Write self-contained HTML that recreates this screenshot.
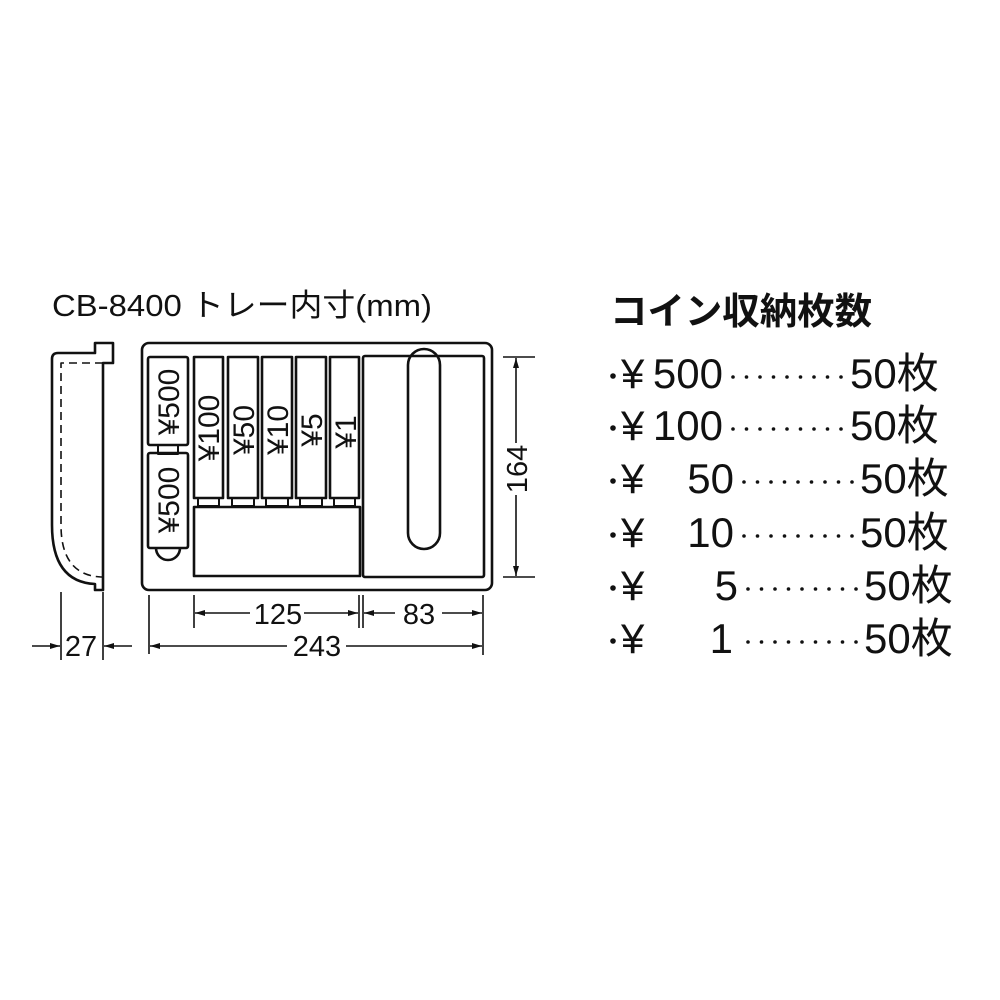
<!DOCTYPE html>
<html><head><meta charset="utf-8"><style>
html,body{margin:0;padding:0;background:#fff;}
svg{display:block;}
text{font-family:"Liberation Sans","Noto Sans CJK JP",sans-serif;fill:#111;}
</style></head><body>
<svg width="1000" height="1000" viewBox="0 0 1000 1000" xmlns="http://www.w3.org/2000/svg">
<defs>
<marker id="a" viewBox="0 0 10 6" refX="10" refY="3" markerWidth="10" markerHeight="6" markerUnits="userSpaceOnUse" orient="auto-start-reverse"><path d="M0,0 L10,3 L0,6 z" fill="#111"/></marker>
<g id="d9" fill="#111">
<circle cx="0" cy="0" r="1.8"/><circle cx="13.5" cy="0" r="1.8"/><circle cx="27" cy="0" r="1.8"/><circle cx="40.5" cy="0" r="1.8"/><circle cx="54" cy="0" r="1.8"/><circle cx="67.5" cy="0" r="1.8"/><circle cx="81" cy="0" r="1.8"/><circle cx="94.5" cy="0" r="1.8"/><circle cx="108" cy="0" r="1.8"/>
</g>
</defs>
<rect width="1000" height="1000" fill="#fff"/>
<text x="52" y="316" font-size="31" textLength="380" lengthAdjust="spacingAndGlyphs">CB-8400 トレー内寸(mm)</text>

<g fill="none" stroke="#111" stroke-width="2.6" stroke-linejoin="round">
<path d="M103,363 H113 V343 H95 V353 H58 Q52,353 52,359 V525 Q52,582 95,584 V590 H103 Z"/>
<path d="M103,363 H61 V525 Q61,575 101,577 H103" stroke-width="1.6" stroke-dasharray="8,5"/>
<rect x="142" y="343" width="350" height="247" rx="7"/>
<rect x="148" y="357" width="40" height="88" rx="2"/>
<rect x="158" y="445" width="20" height="9" stroke-width="2"/>
<rect x="148" y="453" width="40" height="95" rx="2"/>
<path d="M156,548 A12,12 0 0 0 180,548" />
<rect x="194" y="357" width="29" height="141"/>
<rect x="228" y="357" width="30" height="141"/>
<rect x="262" y="357" width="30" height="141"/>
<rect x="296" y="357" width="30" height="141"/>
<rect x="330" y="357" width="29" height="141"/>
<g stroke-width="2">
<rect x="198" y="498" width="21" height="8"/>
<rect x="232" y="498" width="22" height="8"/>
<rect x="266" y="498" width="22" height="8"/>
<rect x="300" y="498" width="22" height="8"/>
<rect x="334" y="498" width="21" height="8"/>
</g>
<rect x="194" y="507" width="166" height="69"/>
<rect x="363" y="356" width="121" height="221" rx="2"/>
<rect x="408" y="349" width="32" height="200" rx="16"/>
</g>

<g font-size="30">
<text transform="translate(179,402) rotate(-90)" text-anchor="middle">¥500</text>
<text transform="translate(179,500) rotate(-90)" text-anchor="middle">¥500</text>
<text transform="translate(219,428) rotate(-90)" text-anchor="middle">¥100</text>
<text transform="translate(254,430) rotate(-90)" text-anchor="middle">¥50</text>
<text transform="translate(288,430) rotate(-90)" text-anchor="middle">¥10</text>
<text transform="translate(322,430) rotate(-90)" text-anchor="middle">¥5</text>
<text transform="translate(356,432) rotate(-90)" text-anchor="middle">¥1</text>
</g>

<g stroke="#111" stroke-width="1.6" fill="none">
<line x1="503" y1="357" x2="535" y2="357"/>
<line x1="503" y1="577" x2="535" y2="577"/>
<line x1="516" y1="443" x2="516" y2="358" marker-end="url(#a)"/>
<line x1="516" y1="495" x2="516" y2="576" marker-end="url(#a)"/>
<line x1="61" y1="592" x2="61" y2="660"/>
<line x1="103" y1="592" x2="103" y2="660"/>
<line x1="149" y1="595" x2="149" y2="654"/>
<line x1="194" y1="595" x2="194" y2="628"/>
<line x1="359" y1="595" x2="359" y2="628"/>
<line x1="363" y1="595" x2="363" y2="628"/>
<line x1="483" y1="595" x2="483" y2="655"/>
<line x1="250" y1="613" x2="195" y2="613" marker-end="url(#a)"/>
<line x1="304" y1="613" x2="358" y2="613" marker-end="url(#a)"/>
<line x1="395" y1="613" x2="364" y2="613" marker-end="url(#a)"/>
<line x1="442" y1="613" x2="482" y2="613" marker-end="url(#a)"/>
<line x1="287" y1="646" x2="150" y2="646" marker-end="url(#a)"/>
<line x1="346" y1="646" x2="482" y2="646" marker-end="url(#a)"/>
<line x1="32" y1="646" x2="60" y2="646" marker-end="url(#a)"/>
<line x1="132" y1="646" x2="104" y2="646" marker-end="url(#a)"/>
</g>
<g font-size="29" text-anchor="middle">
<text transform="translate(527,469) rotate(-90)">164</text>
<text x="278" y="624">125</text>
<text x="419" y="624">83</text>
<text x="317" y="656">243</text>
<text x="81" y="656">27</text>
</g>

<text x="610" y="324" font-size="37" font-weight="bold" textLength="262" lengthAdjust="spacingAndGlyphs">コイン収納枚数</text>
<g font-size="42">
<circle cx="613" cy="376" r="2.8" fill="#111"/>
<text x="621" y="388">¥</text>
<text x="723" y="388" text-anchor="end">500</text>
<text x="850" y="388">50枚</text>

<circle cx="613" cy="428" r="2.8" fill="#111"/>
<text x="621" y="440">¥</text>
<text x="723" y="440" text-anchor="end">100</text>
<text x="850" y="440">50枚</text>

<circle cx="613" cy="481" r="2.8" fill="#111"/>
<text x="621" y="493">¥</text>
<text x="734" y="493" text-anchor="end">50</text>
<text x="860" y="493">50枚</text>

<circle cx="613" cy="535" r="2.8" fill="#111"/>
<text x="621" y="547">¥</text>
<text x="734" y="547" text-anchor="end">10</text>
<text x="860" y="547">50枚</text>

<circle cx="613" cy="588" r="2.8" fill="#111"/>
<text x="621" y="600">¥</text>
<text x="738" y="600" text-anchor="end">5</text>
<text x="864" y="600">50枚</text>

<circle cx="613" cy="641" r="2.8" fill="#111"/>
<text x="621" y="653">¥</text>
<text x="733" y="653" text-anchor="end">1</text>
<text x="864" y="653">50枚</text>
</g>
<use href="#d9" transform="translate(733,377)"/>
<use href="#d9" transform="translate(733,429)"/>
<use href="#d9" transform="translate(744,482)"/>
<use href="#d9" transform="translate(744,536)"/>
<use href="#d9" transform="translate(748,589)"/>
<use href="#d9" transform="translate(748,642)"/>
</svg>
</body></html>
